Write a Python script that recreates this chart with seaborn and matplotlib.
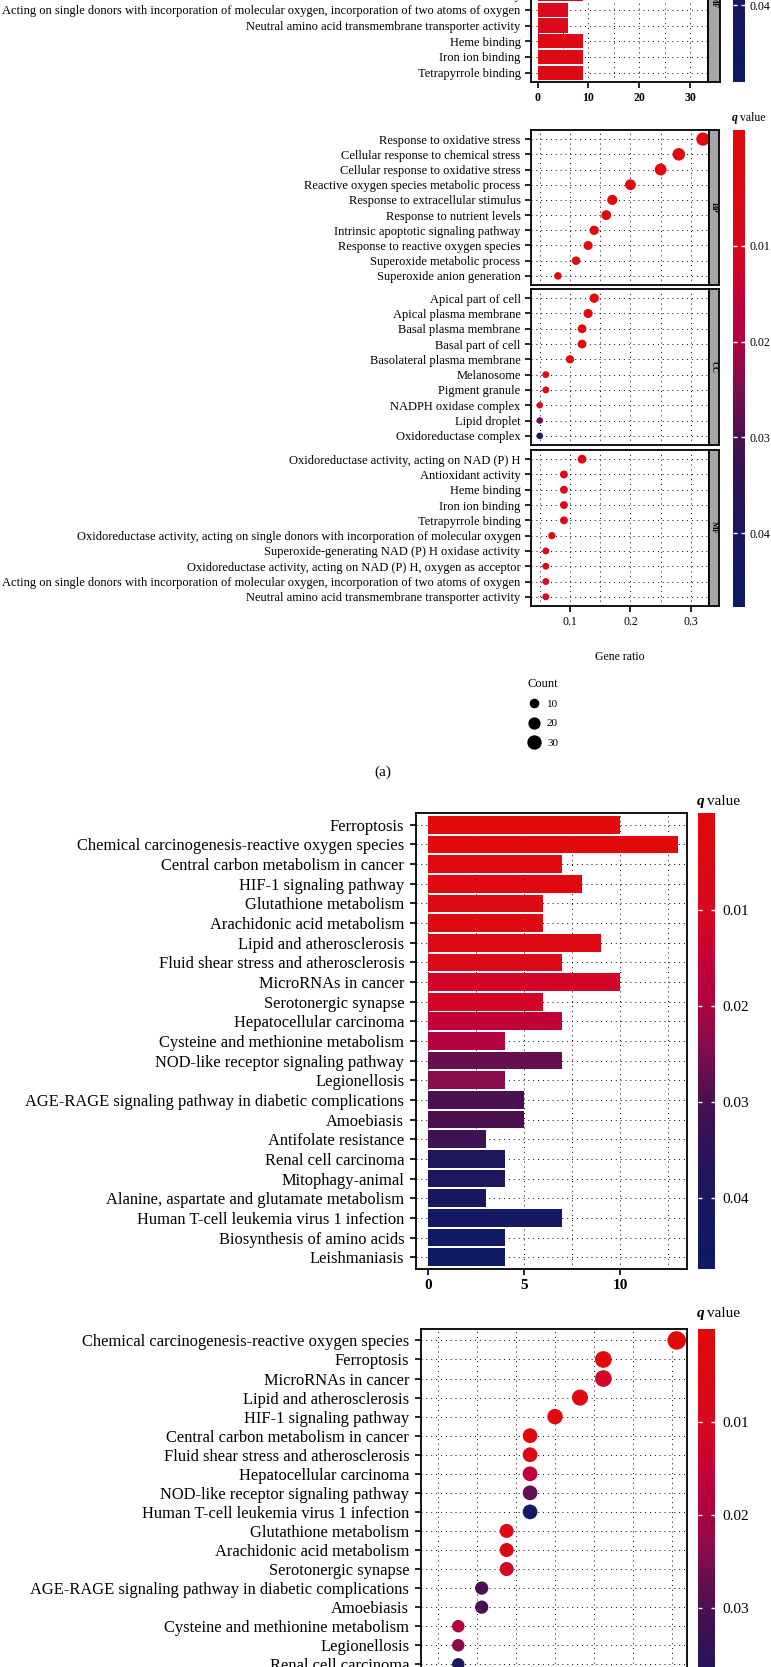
import numpy as np
import pandas as pd
import matplotlib
matplotlib.use("Agg")
import matplotlib.pyplot as plt
import seaborn as sns
from matplotlib.colors import LinearSegmentedColormap, Normalize
from matplotlib.lines import Line2D

# ---------------- data ----------------
# GO bar chart, MF facet (only the lower rows are inside the picture)
go_bar_mf_terms = [
    "Antioxidant activity",
    "Acting on single donors with incorporation of molecular oxygen, incorporation of two atoms of oxygen",
    "Neutral amino acid transmembrane transporter activity",
    "Heme binding",
    "Iron ion binding",
    "Tetrapyrrole binding",
]
go_bar_mf_counts = [9, 6, 6, 9, 9, 9]
go_bar_mf_q = [0.004, 0.008, 0.008, 0.005, 0.005, 0.005]

go_bp_terms = [
    "Response to oxidative stress",
    "Cellular response to chemical stress",
    "Cellular response to oxidative stress",
    "Reactive oxygen species metabolic process",
    "Response to extracellular stimulus",
    "Response to nutrient levels",
    "Intrinsic apoptotic signaling pathway",
    "Response to reactive oxygen species",
    "Superoxide metabolic process",
    "Superoxide anion generation",
]
go_bp_counts = [32, 28, 25, 20, 17, 16, 14, 13, 11, 8]
go_bp_ratio = [0.320, 0.280, 0.250, 0.200, 0.170, 0.160, 0.140, 0.130, 0.110, 0.080]
go_bp_q = [0.0008, 0.0009, 0.0009, 0.0010, 0.0015, 0.0015, 0.0020, 0.0020, 0.0025, 0.0035]

go_cc_terms = [
    "Apical part of cell",
    "Apical plasma membrane",
    "Basal plasma membrane",
    "Basal part of cell",
    "Basolateral plasma membrane",
    "Melanosome",
    "Pigment granule",
    "NADPH oxidase complex",
    "Lipid droplet",
    "Oxidoreductase complex",
]
go_cc_counts = [14, 13, 12, 12, 10, 6, 6, 5, 5, 5]
go_cc_ratio = [0.140, 0.130, 0.120, 0.120, 0.100, 0.060, 0.060, 0.050, 0.050, 0.050]
go_cc_q = [0.0010, 0.0010, 0.0015, 0.0015, 0.0020, 0.0030, 0.0030, 0.0040, 0.0260, 0.0450]

go_mf_terms = [
    "Oxidoreductase activity, acting on NAD (P) H",
    "Antioxidant activity",
    "Heme binding",
    "Iron ion binding",
    "Tetrapyrrole binding",
    "Oxidoreductase activity, acting on single donors with incorporation of molecular oxygen",
    "Superoxide-generating NAD (P) H oxidase activity",
    "Oxidoreductase activity, acting on NAD (P) H, oxygen as acceptor",
    "Acting on single donors with incorporation of molecular oxygen, incorporation of two atoms of oxygen",
    "Neutral amino acid transmembrane transporter activity",
]
go_mf_counts = [12, 9, 9, 9, 9, 7, 6, 6, 6, 6]
go_mf_ratio = [0.120, 0.090, 0.090, 0.090, 0.090, 0.070, 0.060, 0.060, 0.060, 0.060]
go_mf_q = [0.003, 0.004, 0.005, 0.005, 0.005, 0.006, 0.007, 0.007, 0.008, 0.008]

kegg_terms = [
    "Ferroptosis",
    "Chemical carcinogenesis-reactive oxygen species",
    "Central carbon metabolism in cancer",
    "HIF-1 signaling pathway",
    "Glutathione metabolism",
    "Arachidonic acid metabolism",
    "Lipid and atherosclerosis",
    "Fluid shear stress and atherosclerosis",
    "MicroRNAs in cancer",
    "Serotonergic synapse",
    "Hepatocellular carcinoma",
    "Cysteine and methionine metabolism",
    "NOD-like receptor signaling pathway",
    "Legionellosis",
    "AGE-RAGE signaling pathway in diabetic complications",
    "Amoebiasis",
    "Antifolate resistance",
    "Renal cell carcinoma",
    "Mitophagy-animal",
    "Alanine, aspartate and glutamate metabolism",
    "Human T-cell leukemia virus 1 infection",
    "Biosynthesis of amino acids",
    "Leishmaniasis",
]
kegg_counts = [10, 13, 7, 8, 6, 6, 9, 7, 10, 6, 7, 4, 7, 4, 5, 5, 3, 4, 4, 3, 7, 4, 4]
kegg_ratio = [0.156, 0.203, 0.109, 0.125, 0.094, 0.094, 0.141, 0.109, 0.156, 0.094, 0.109, 0.063,
              0.109, 0.063, 0.078, 0.078, 0.047, 0.063, 0.063, 0.047, 0.109, 0.063, 0.063]
kegg_q = [0.0012, 0.0015, 0.0030, 0.0030, 0.0045, 0.0045, 0.0050, 0.0070, 0.0120, 0.0120, 0.0160,
          0.0190, 0.0275, 0.0235, 0.0300, 0.0300, 0.0320, 0.0390, 0.0390, 0.0410, 0.0430, 0.0450, 0.0460]

# KEGG dot plot: rows visible in the picture (the rest lies below its lower edge)
kegg_dot_order = [
    "Chemical carcinogenesis-reactive oxygen species",
    "Ferroptosis",
    "MicroRNAs in cancer",
    "Lipid and atherosclerosis",
    "HIF-1 signaling pathway",
    "Central carbon metabolism in cancer",
    "Fluid shear stress and atherosclerosis",
    "Hepatocellular carcinoma",
    "NOD-like receptor signaling pathway",
    "Human T-cell leukemia virus 1 infection",
    "Glutathione metabolism",
    "Arachidonic acid metabolism",
    "Serotonergic synapse",
    "AGE-RAGE signaling pathway in diabetic complications",
    "Amoebiasis",
    "Cysteine and methionine metabolism",
    "Legionellosis",
    "Renal cell carcinoma",
]

cbar_ticks = [0.01, 0.02, 0.03, 0.04]
cbar_ticklabels = ["0.01", "0.02", "0.03", "0.04"]
count_legend = [10, 20, 30]

# ---------------- style ----------------
sns.set_theme(style="white")
plt.rcParams['font.family'] = ['Liberation Serif', 'DejaVu Serif']
plt.rcParams.update({
    'text.color': 'black', 'axes.labelcolor': 'black',
    'xtick.color': 'black', 'ytick.color': 'black',
    'axes.edgecolor': 'black', 'axes.linewidth': 1.3,
})

cmap = LinearSegmentedColormap.from_list("qcol", [
    (0.00, "#E00A0C"), (0.20, "#D8081E"), (0.33, "#C2003A"), (0.42, "#AE0440"),
    (0.53, "#7E0E4C"), (0.64, "#4C1050"), (0.76, "#2C1458"), (0.87, "#1A1860"),
    (1.00, "#0E1A62")])
norm = Normalize(vmin=0.001, vmax=0.046, clip=True)

W, H = 771, 1667
fig = plt.figure(figsize=(W / 100, H / 100), dpi=100)


def add_ax(x0, y0, x1, y1):
    return fig.add_axes([x0 / W, 1 - y1 / H, (x1 - x0) / W, (y1 - y0) / H])


GRID = dict(color='black', linestyle=(0, (1, 4)), linewidth=0.7)


def frame(ax):
    for sp in ax.spines.values():
        sp.set_visible(True)
        sp.set_color('black')
        sp.set_linewidth(1.3)


def bar_panel(ax, terms, counts, qs, xlim, ylim, major, minor, fs, tfs, pad):
    df = pd.DataFrame({'term': terms, 'count': counts, 'q': qs})
    pal = [cmap(norm(q)) for q in qs]
    sns.barplot(data=df, x='count', y='term', hue='term', palette=pal, legend=False,
                width=0.9, saturation=1, errorbar=None, orient='h', ax=ax, linewidth=0)
    ax.set_ylim(*ylim)
    ax.set_xlim(*xlim)
    ax.set_xticks(major)
    ax.set_xticks(minor, minor=True)
    ax.set_axisbelow(True)
    ax.grid(True, which='both', axis='x', **GRID)
    ax.grid(True, which='major', axis='y', **GRID)
    ax.set_xlabel('')
    ax.set_ylabel('')
    ax.tick_params(axis='y', which='major', length=4, width=1.2, labelsize=fs, pad=pad, left=True)
    ax.tick_params(axis='x', which='major', length=4, width=1.2, labelsize=tfs, pad=3, bottom=True)
    ax.tick_params(axis='x', which='minor', length=0)
    for lab in ax.get_xticklabels():
        lab.set_fontweight('bold')
    frame(ax)


def dot_panel(ax, df, xlim, ylim, major, minor, fs, sizes, size_norm, show_x, tfs, pad):
    sns.scatterplot(data=df, x='ratio', y='term', hue='q', palette=cmap, hue_norm=norm,
                    size='count', sizes=sizes, size_norm=size_norm, legend=False,
                    edgecolor='none', linewidth=0, ax=ax, zorder=3)
    ax.set_ylim(*ylim)
    ax.set_xlim(*xlim)
    ax.set_xticks(major)
    ax.set_xticks(minor, minor=True)
    ax.set_axisbelow(True)
    ax.grid(True, which='both', axis='x', **GRID)
    ax.grid(True, which='major', axis='y', **GRID)
    ax.set_xlabel('')
    ax.set_ylabel('')
    ax.tick_params(axis='y', which='major', length=4, width=1.2, labelsize=fs, pad=pad, left=True)
    ax.tick_params(axis='x', which='minor', length=0)
    if show_x:
        ax.tick_params(axis='x', which='major', length=4, width=1.2, labelsize=tfs, pad=3, bottom=True)
    else:
        ax.tick_params(axis='x', which='major', length=0, labelbottom=False)
    frame(ax)


def strip(x0, y0, x1, y1, label, fs):
    sax = add_ax(x0, y0, x1, y1)
    sax.set_facecolor('#A6A6A6')
    sax.set_xticks([])
    sax.set_yticks([])
    frame(sax)
    sax.text(0.5, 0.5, label, rotation=-90, ha='center', va='center', fontsize=fs,
             fontweight='bold', transform=sax.transAxes)


def colorbar(x0, y0, x1, y1, vtop, vbot, fs, pad, ticks):
    cax = add_ax(x0, y0, x1, y1)
    vals = np.linspace(vtop, vbot, 400)[:, None]
    cax.imshow(vals, aspect='auto', cmap=cmap, norm=norm, origin='upper',
               extent=(0, 1, vbot, vtop), interpolation='bilinear')
    cax.set_xlim(0, 1)
    cax.set_ylim(vbot, vtop)
    cax.set_xticks([])
    cax.set_yticks([cbar_ticks[i] for i in ticks])
    cax.set_yticklabels([cbar_ticklabels[i] for i in ticks])
    cax.yaxis.tick_right()
    cax.tick_params(axis='y', direction='in', length=3, width=1, color='white',
                    left=True, right=True, labelleft=False, labelright=True,
                    labelsize=fs, pad=pad)
    for sp in cax.spines.values():
        sp.set_visible(False)
    return cax


def qtitle(x, y, fs, gap):
    fig.text(x / W, 1 - y / H, 'q', fontsize=fs, fontstyle='italic', fontweight='bold',
             ha='left', va='center')
    fig.text((x + gap) / W, 1 - y / H, 'value', fontsize=fs, ha='left', va='center')


# ---------------- panel: GO bar (MF facet, cut at the top) ----------------
ax1 = add_ax(531, -78, 708, 82)
n1 = len(go_bar_mf_terms)
bar_panel(ax1, go_bar_mf_terms, go_bar_mf_counts, go_bar_mf_q, (-1.3, 33.5),
          (n1 - 1 + 0.6, n1 - 1 + 0.6 - 10.2),
          [0, 10, 20, 30], [5, 15, 25], 9, 8.5, 3.5)
strip(708, -78, 720, 82, "MF", 6)
colorbar(733, -400, 745, 82, -0.0024, 0.048, 8.5, 3.5, [3])

# ---------------- panel: GO dot plot (a) ----------------
go_panels = [
    ("BP", go_bp_terms, go_bp_counts, go_bp_ratio, go_bp_q, 130, 285),
    ("CC", go_cc_terms, go_cc_counts, go_cc_ratio, go_cc_q, 289, 445),
    ("MF", go_mf_terms, go_mf_counts, go_mf_ratio, go_mf_q, 450, 606),
]
GO_SIZES, GO_SNORM = (22, 92), (5, 32)
for i, (lab, terms, counts, ratio, qs, ya, yb) in enumerate(go_panels):
    ax = add_ax(531, ya, 709, yb)
    df = pd.DataFrame({'term': terms, 'count': counts, 'ratio': ratio, 'q': qs})
    n = len(df)
    dot_panel(ax, df, (0.0355, 0.330), (n - 1 + 0.6, -0.6), [0.1, 0.2, 0.3],
              [0.05, 0.15, 0.25], 9, GO_SIZES, GO_SNORM, i == 2, 8.5, 3.5)
    strip(709, ya, 719, yb, lab, 6)
colorbar(733, 130, 745, 607, -0.0021, 0.0477, 8.5, 3.5, [0, 1, 2, 3])
qtitle(732, 118, 8.5, 8.5)
fig.text(620 / W, 1 - 657 / H, 'Gene ratio', fontsize=8.5, ha='center', va='center')


def s_of(c):
    return GO_SIZES[0] + (c - GO_SNORM[0]) * (GO_SIZES[1] - GO_SIZES[0]) / (GO_SNORM[1] - GO_SNORM[0])


handles = [Line2D([], [], marker='o', linestyle='none', color='black',
                  markersize=np.sqrt(s_of(c))) for c in count_legend]
leg = fig.legend(handles, [str(c) for c in count_legend], title='Count', loc='upper left',
                 bbox_to_anchor=(527 / W, 1 - 678 / H), frameon=False, fontsize=8,
                 title_fontsize=9, borderpad=0, borderaxespad=0, handletextpad=0.6,
                 labelspacing=0.85, handlelength=1.2, alignment='left')

fig.text(383 / W, 1 - 772 / H, '(a)', fontsize=11, ha='center', va='center')

# ---------------- panel: KEGG bar ----------------
ax3 = add_ax(416, 813, 687, 1269)
n3 = len(kegg_terms)
bar_panel(ax3, kegg_terms, kegg_counts, kegg_q, (-0.625, 13.49), (n3 - 1 + 0.6, -0.6),
          [0, 5, 10], [2.5, 7.5, 12.5], 11.9, 11, 4.5)
colorbar(698, 813, 715, 1269, -0.0001, 0.0474, 11, 5, [0, 1, 2, 3])
qtitle(697, 801, 11, 10)

# ---------------- panel: KEGG dot plot (cut at the bottom) ----------------
kegg_df = pd.DataFrame({'term': kegg_terms, 'count': kegg_counts,
                        'ratio': kegg_ratio, 'q': kegg_q}).set_index('term')
kegg_dot_df = kegg_df.loc[kegg_dot_order].reset_index()
ax4 = add_ax(421, 1329, 687, 1771)
dot_panel(ax4, kegg_dot_df, (0.0391, 0.2096), (len(kegg_terms) - 1 + 0.6, -0.6),
          [0.05, 0.10, 0.15, 0.20], [0.075, 0.125, 0.175], 11.9, (70, 177), (3, 13),
          False, 11, 4.5)
colorbar(698, 1329, 715, 1800, 0.0, 0.0506, 11, 5, [0, 1, 2])
qtitle(697, 1313, 11, 10)

fig.savefig("out.png", dpi=100)
